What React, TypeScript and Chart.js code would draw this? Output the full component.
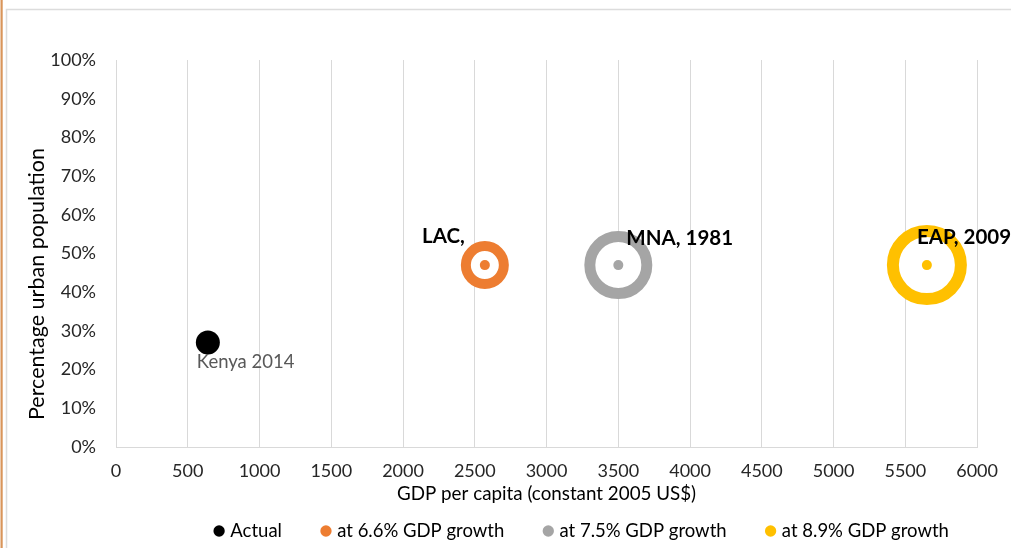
import React, { useEffect, useRef } from 'react';
import { Chart, registerables } from 'chart.js';

Chart.register(...registerables);

// ---- data ----
const seriesNames = ['Actual', 'at 6.6% GDP growth', 'at 7.5% GDP growth', 'at 8.9% GDP growth'];
const gdpPerCapita = [640, 2570, 3500, 5650];
const urbanShare = [0.27, 0.47, 0.47, 0.47];
const pointLabels = ['Kenya 2014', 'LAC,', 'MNA, 1981', 'EAP, 2009'];
const xAxisMin = 0;
const xAxisMax = 6000;
const xAxisStep = 500;
const yAxisMin = 0;
const yAxisMax = 1;
const yAxisStep = 0.1;
const xTitle = 'GDP per capita (constant 2005 US$)';
const yTitle = 'Percentage urban population';

// ---- styles ----
const colors = ['#000000', '#ED7D31', '#A5A5A5', '#FFC000'];
const ringRadius = [12, 19, 28.5, 34];
const ringWidth = [0, 10, 11, 12];
const FONT = 'Lato, "Open Sans", sans-serif';
const GRID = '#d9d9d9';
// label placement relative to point: [dx, dy, align, bold, color, size]
const labelStyle: Array<[number, number, CanvasTextAlign, boolean, string, number]> = [
  [-11, 20, 'left', false, '#595959', 18.5],
  [-20, -29, 'right', true, '#000000', 20.5],
  [8, -27, 'left', true, '#000000', 20.5],
  [-10, -28, 'left', true, '#000000', 20.5],
];

const LEGEND_PAD = 42;
const LEGEND_FONT = 18.5;

const framePlugin = {
  id: 'frame',
  beforeDraw(chart: any) {
    const { ctx, width, height } = chart;
    ctx.save();
    ctx.fillStyle = '#ffffff';
    ctx.fillRect(0, 0, width, height);
    ctx.strokeStyle = '#dcdcdc';
    ctx.lineWidth = 1.5;
    ctx.beginPath();
    ctx.moveTo(6.5, height);
    ctx.lineTo(6.5, 9.5);
    ctx.lineTo(width, 9.5);
    ctx.stroke();
    ctx.fillStyle = '#D9955A';
    ctx.fillRect(0.5, 0, 2.2, height);
    ctx.restore();
  },
  afterDraw(chart: any) {
    const { ctx } = chart;
    ctx.save();
    ctx.translate(37, 284);
    ctx.rotate(-Math.PI / 2);
    ctx.font = `21.5px ${FONT}`;
    ctx.fillStyle = '#000000';
    ctx.textAlign = 'center';
    ctx.textBaseline = 'middle';
    ctx.fillText(yTitle, 0, 0);
    ctx.restore();
  },
};

const legendShiftPlugin = {
  id: 'legendShift',
  afterLayout(chart: any) {
    const lg = chart.legend;
    if (!lg) return;
    const dx = 583 - (lg.left + lg.right) / 2;
    lg.left += dx;
    lg.right += dx;
    lg.top = 531 - LEGEND_PAD - LEGEND_FONT / 2;
  },
};

const labelPlugin = {
  id: 'pointLabels',
  afterDatasetsDraw(chart: any) {
    const { ctx } = chart;
    ctx.save();
    chart.data.datasets.forEach((ds: any, di: number) => {
      if (ds.isDot) return;
      const s = ds.seriesIdx;
      const meta = chart.getDatasetMeta(di);
      const el = meta.data[0];
      if (!el) return;
      const [dx, dy, align, bold, color, size] = labelStyle[s];
      ctx.font = `${bold ? 'bold ' : ''}${size}px ${FONT}`;
      ctx.fillStyle = color;
      ctx.textAlign = align;
      ctx.textBaseline = 'middle';
      ctx.fillText(pointLabels[s], el.x + dx, el.y + dy);
    });
    ctx.restore();
  },
};

export default function App() {
  const canvasRef = useRef<HTMLCanvasElement | null>(null);

  useEffect(() => {
    const canvas = canvasRef.current;
    if (!canvas) return;

    const datasets: any[] = [];
    seriesNames.forEach((name, i) => {
      const point = [{ x: gdpPerCapita[i], y: urbanShare[i] }];
      if (i === 0) {
        datasets.push({
          label: name,
          seriesIdx: i,
          data: point,
          pointRadius: ringRadius[i],
          pointHoverRadius: ringRadius[i],
          backgroundColor: colors[i],
          borderColor: colors[i],
          borderWidth: 0,
          pointStyle: 'circle',
          order: 0,
        });
      } else {
        datasets.push({
          label: name,
          seriesIdx: i,
          data: point,
          pointRadius: ringRadius[i],
          pointHoverRadius: ringRadius[i],
          backgroundColor: '#ffffff',
          borderColor: colors[i],
          borderWidth: ringWidth[i],
          pointStyle: 'circle',
          order: 1,
        });
        datasets.push({
          label: '',
          isDot: true,
          seriesIdx: i,
          data: point,
          pointRadius: 5,
          pointHoverRadius: 5,
          backgroundColor: colors[i],
          borderColor: colors[i],
          borderWidth: 0,
          pointStyle: 'circle',
          order: 0,
        });
      }
    });

    const chart = new Chart(canvas, {
      type: 'scatter',
      data: { datasets },
      plugins: [framePlugin, legendShiftPlugin, labelPlugin],
      options: {
        animation: false,
        responsive: false,
        devicePixelRatio: 1,
        layout: { autoPadding: false, padding: { top: 60, right: 33, left: 0, bottom: 0 } },
        plugins: {
          tooltip: { enabled: false },
          legend: {
            position: 'bottom',
            maxHeight: 39,
            labels: {
              usePointStyle: true,
              boxWidth: 4,
              boxHeight: 8,
              padding: LEGEND_PAD,
              color: '#000000',
              font: { family: FONT, size: LEGEND_FONT },
              generateLabels: (ch: any) => {
                const base = (Chart.defaults.plugins.legend.labels as any).generateLabels(ch);
                return base
                  .filter((it: any) => it.text !== '')
                  .map((it: any) => {
                    const s = ch.data.datasets[it.datasetIndex].seriesIdx;
                    return { ...it, fillStyle: colors[s], strokeStyle: colors[s], lineWidth: 0, pointStyle: 'circle' };
                  });
              },
            },
          },
        },
        scales: {
          x: {
            type: 'linear',
            min: xAxisMin,
            max: xAxisMax,
            afterFit: (s: any) => { s.height = 62; },
            ticks: {
              stepSize: xAxisStep,
              padding: 13,
              color: '#262626',
              font: { family: FONT, size: 18 },
              callback: (v: any) => String(v),
            },
            grid: { color: GRID, lineWidth: 1, drawTicks: false },
            border: { display: true, color: GRID, width: 1 },
            title: {
              display: true,
              text: xTitle,
              color: '#000000',
              font: { family: FONT, size: 18.8 },
              padding: { top: 0, bottom: 4 },
            },
          },
          y: {
            type: 'linear',
            min: yAxisMin,
            max: yAxisMax,
            afterFit: (s: any) => { s.width = 116; },
            ticks: {
              stepSize: yAxisStep,
              padding: 20,
              color: '#262626',
              font: { family: FONT, size: 18 },
              callback: (v: any) => `${Math.round(Number(v) * 100)}%`,
            },
            grid: { display: false, drawTicks: false },
            border: { display: true, color: GRID, width: 1 },
            title: { display: false },
          },
        },
      },
    });

    return () => chart.destroy();
  }, []);

  return (
    <div style={{ position: 'absolute', left: 0, top: 0, width: 1011, height: 548 }}>
      <canvas ref={canvasRef} width={1011} height={548} style={{ display: 'block' }} />
    </div>
  );
}
